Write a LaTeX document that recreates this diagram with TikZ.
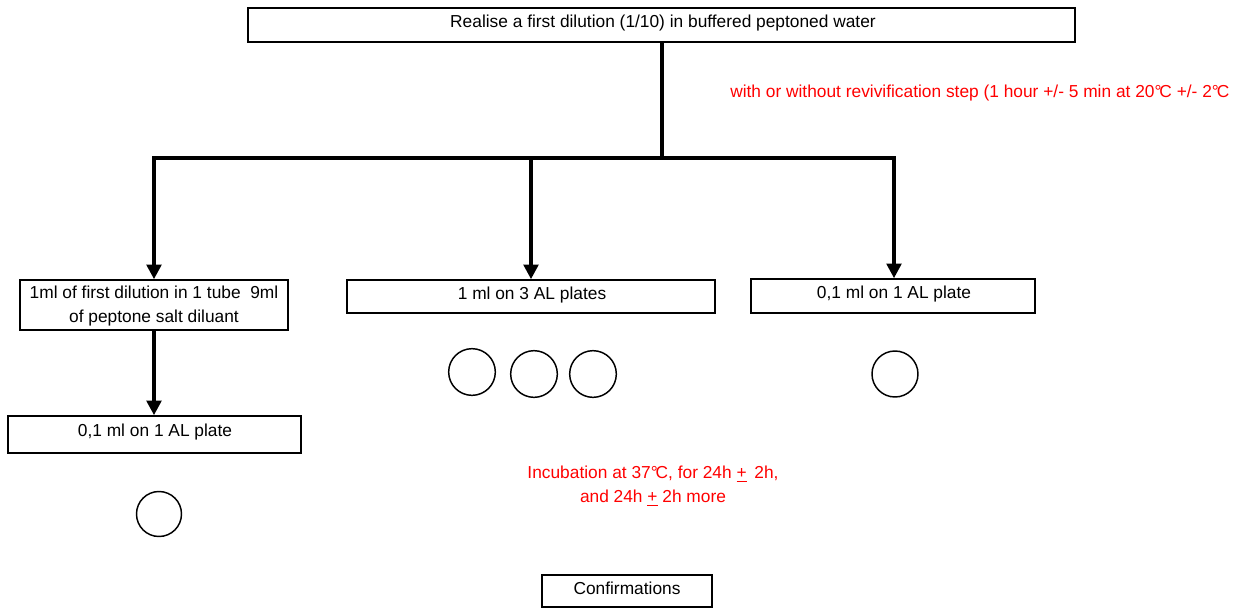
\documentclass[tikz,border=0pt]{standalone}
\usepackage{fontspec}
\setmainfont{Liberation Sans}
\usetikzlibrary{arrows.meta}
% degree Celsius written as one tight glyph pair
\newcommand{\degc}{°\kern-0.12em C}
\begin{document}
\begin{tikzpicture}[x=0.75pt,y=-0.75pt,
  every node/.style={font=\fontsize{13}{18}\selectfont},
  box/.style={draw,line width=1.2pt,rectangle,inner sep=0pt},
  txt/.style={inner sep=0pt,anchor=base},
  note/.style={inner sep=0pt,text=red},
  plate/.style={draw,line width=1.1pt,circle,inner sep=0pt},
  flow/.style={line width=2.6pt},
  arrowflow/.style={flow,-{Triangle[width=11pt,length=11pt]}}]
\useasboundingbox (0,0) rectangle (1240,608);

% boxes
\node[box,minimum width=620.25pt,minimum height=25.5pt] (top) at (661.5,25) {};
\node[box,minimum width=201pt,minimum height=37.5pt] (tube) at (154,305) {};
\node[box,minimum width=276pt,minimum height=24.75pt] (three) at (531,296.5) {};
\node[box,minimum width=213pt,minimum height=25.5pt] (one) at (893,296) {};
\node[box,minimum width=219.75pt,minimum height=27.75pt] (onetube) at (154.5,434.5) {};
\node[box,minimum width=127.5pt,minimum height=24pt] (conf) at (627,591) {};

% box texts
\node[txt] (top-t) at (663,27) {Realise a first dilution (1/10) in buffered peptoned water};
\node[inner sep=0pt,align=center] (tube-t) at (154,306.5) {1ml of first dilution in 1 tube~ 9ml\\of peptone salt diluant};
\node[txt] (three-t) at (532,299) {1 ml on 3 AL plates};
\node[txt] (one-t) at (894,298.5) {0,1 ml on 1 AL plate};
\node[txt] (onetube-t) at (155,436) {0,1 ml on 1 AL plate};
\node[txt] (conf-t) at (627,594) {Confirmations};

% red notes
\node[note,anchor=base west] (revive) at (730,97) {with or without revivification step (1 hour +/- 5 min at 20\degc{} +/- 2\degc};
\node[note,align=center] (incub) at (653,486) {Incubation at 37\degc, for 24h \underline{+}\, 2h,\\and 24h \underline{+} 2h more};

% plates
\node[plate,minimum size=35pt] (p1) at (472,372) {};
\node[plate,minimum size=35pt] (p2) at (534,374) {};
\node[plate,minimum size=35pt] (p3) at (593,374) {};
\node[plate,minimum size=34.5pt] (p4) at (895,374) {};
\node[plate,minimum size=33.75pt] (p5) at (159,514) {};

% connectors
\coordinate (split) at (662,158);
\coordinate (bl) at (154,158);
\coordinate (bm) at (531,158);
\coordinate (br) at (894,158);
\draw[flow] (top.south -| split) -- (split);
\draw[flow,line cap=rect] (bl) -- (br);
\draw[arrowflow] (bl) -- (bl |- tube.north);
\draw[arrowflow] (bm) -- (bm |- three.north);
\draw[arrowflow] (br) -- (br |- one.north);
\draw[arrowflow] (tube.south) -- (onetube.north -| tube.south);
\end{tikzpicture}
\end{document}
